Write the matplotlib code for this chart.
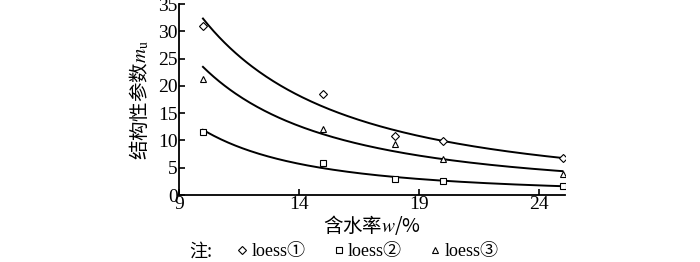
import numpy as np
import matplotlib
matplotlib.use("Agg")
import matplotlib.pyplot as plt
from matplotlib.lines import Line2D

plt.rcParams["font.family"] = ["Liberation Serif", "Noto Sans CJK SC"]
plt.rcParams["mathtext.fontset"] = "stix"

# water content (%) and structural parameter m_u for three loess samples
w = np.array([10, 15, 18, 20, 25])
loess1 = np.array([31.0, 18.6, 10.9, 9.85, 6.8])
loess2 = np.array([11.6, 5.8, 2.9, 2.5, 1.7])
loess3 = np.array([21.2, 12.1, 9.4, 6.6, 3.8])

series = [
    (loess1, "D", 3.6, "loess①"),
    (loess2, "s", 3.8, "loess②"),
    (loess3, "^", 4.2, "loess③"),
]
x_ticks = [9, 14, 19, 24]
y_ticks = [0, 5, 10, 15, 20, 25, 30, 35]

fig = plt.figure(figsize=(7, 2.62), dpi=100)
ax = fig.add_axes([0.2557, 0.2557, 0.807 - 0.2557, 0.984 - 0.2557])

xs = np.linspace(w.min(), w.max(), 200)
handles = []
for vals, mk, ms, lab in series:
    # power-law trend line m_u = a * w^b fitted in log-log space
    b, ln_a = np.polyfit(np.log(w), np.log(vals), 1)
    ax.plot(xs, np.exp(ln_a) * xs ** b, color="black", lw=1.4)
    ax.plot(w, vals, linestyle="none", marker=mk, ms=ms,
            mfc="white", mec="black", mew=0.8)
    handles.append(Line2D([], [], linestyle="none", marker=mk, ms=ms,
                          mfc="white", mec="black", mew=0.8, label=lab))

ax.set_xlim(9, 25.1)
ax.set_ylim(0, 35)
ax.set_xticks(x_ticks)
ax.set_yticks(y_ticks)
ax.spines["top"].set_visible(False)
ax.spines["right"].set_visible(False)
for s in ("left", "bottom"):
    ax.spines[s].set_linewidth(1.3)
ax.tick_params(direction="in", length=4, width=1.2, labelsize=14)
ax.tick_params(axis="y", pad=1)
ax.tick_params(axis="x", pad=1)

ax.set_ylabel("结构性参数$m_\\mathrm{u}$", fontsize=14, labelpad=5,
              family=["Noto Sans CJK SC", "DejaVu Sans"])
ax.set_xlabel("含水率$w$/%", fontsize=14, labelpad=0,
              family=["Noto Sans CJK SC", "DejaVu Sans"])

fig.text(0.27, 0.04, "注:", fontsize=13, family=["Noto Sans CJK SC"],
         va="center")
fig.legend(handles=handles, ncol=3, loc="center left",
           bbox_to_anchor=(0.327, 0.04), frameon=False, fontsize=13,
           handlelength=0.5, handletextpad=0.25, columnspacing=1.6,
           borderpad=0)

fig.savefig("out.png", dpi=100)
